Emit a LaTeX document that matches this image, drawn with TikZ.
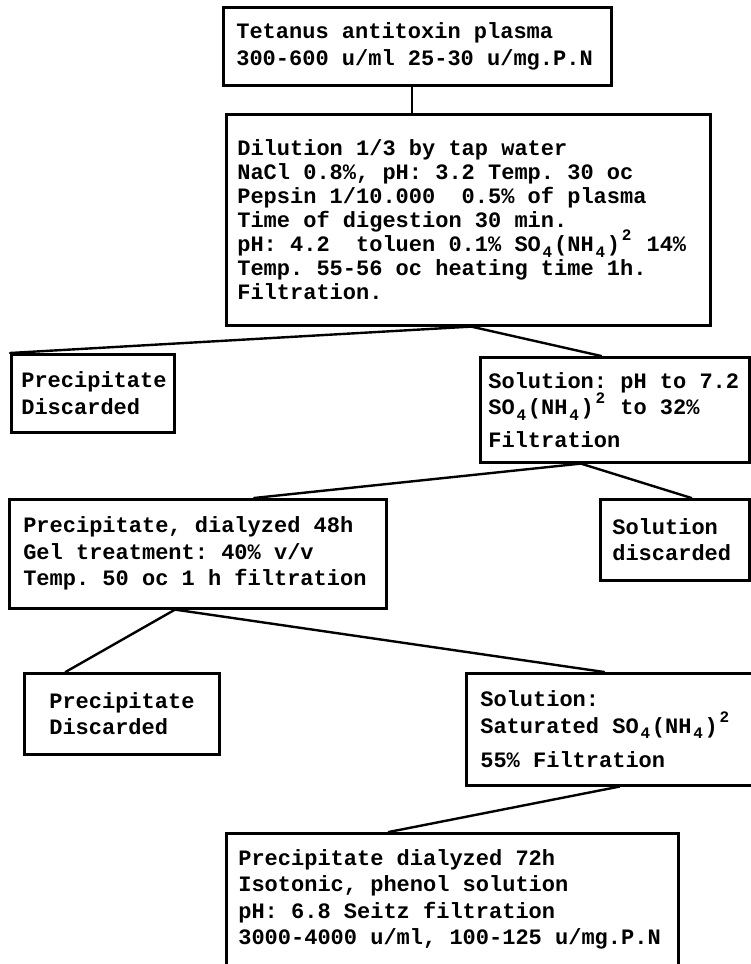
\documentclass[tikz,border=0pt]{standalone}
\usepackage{fontspec}
\setmonofont{Liberation Mono}
\usepackage{tikz}
\usetikzlibrary{calc, positioning}

\newcommand{\boxfont}[1]{\ttfamily\bfseries\fontsize{22}{#1}\selectfont\spaceskip=0.6em\relax\frenchspacing}
\newcommand{\lowr}[1]{\smash{\makebox[0.6em]{\raisebox{-0.25em}{\fontsize{16}{16}\selectfont #1}}}}
\newcommand{\highr}[1]{\smash{\makebox[0.6em]{\raisebox{0.5em}{\fontsize{16}{16}\selectfont #1}}}}

\tikzset{
  stagebox/.style={draw, line width=2.6pt, anchor=north west, align=flush left, inner xsep=12pt, inner ysep=0pt,
    font=\boxfont{26.5}},
  tightbox/.style={stagebox, font=\boxfont{23.9}},
  link/.style={line width=2.4pt, line cap=round}
}

\begin{document}
\begin{tikzpicture}[x=1pt, y=-1pt]
\useasboundingbox (0,0) rectangle (751,964);

\node[stagebox, inner xsep=13pt, text width=362pt, minimum height=78pt] (plasma) at (222,6)
  {Tetanus antitoxin plasma\\300-600 u/ml 25-30 u/mg.P.N};
\node[tightbox, inner xsep=11pt, text width=462pt, minimum height=211pt] (dilution) at (225,113)
  {Dilution 1/3 by tap water\\
   NaCl 0.8\%, pH: 3.2 Temp. 30 oc\\
   Pepsin 1/10.000~ 0.5\% of plasma\\
   Time of digestion 30 min.\\
   pH: 4.2~ toluen 0.1\% SO\lowr{4}(NH\lowr{4})\highr{2} 14\%\\
   Temp. 55-56 oc heating time 1h.\\
   Filtration.};

\node[stagebox, inner xsep=10pt, text width=143pt, minimum height=78pt] (precipone) at (10,353)
  {Precipitate\\Discarded};
\node[stagebox, inner xsep=8pt, text width=253pt, minimum height=105pt] (solone) at (479,356)
  {Solution: pH to 7.2\\SO\lowr{4}(NH\lowr{4})\highr{2} to 32\%\\[6pt]Filtration};

\node[stagebox, inner xsep=14pt, text width=349pt, minimum height=109pt] (dialyzed) at (8,498)
  {Precipitate, dialyzed 48h\\Gel treatment: 40\% v/v\\Temp. 50 oc 1 h filtration};
\node[stagebox, inner xsep=12pt, text width=125pt, minimum height=81pt] (soltwo) at (599,498)
  {Solution\\discarded};

\node[stagebox, inner xsep=25pt, text width=145pt, minimum height=81pt] (preciptwo) at (23,672)
  {Precipitate\\Discarded};
\node[stagebox, inner xsep=14pt, text width=272pt, minimum height=112pt] (saturated) at (465,672)
  {Solution:\\Saturated SO\lowr{4}(NH\lowr{4})\highr{2}\\[8pt]55\% Filtration};

\node[stagebox, inner xsep=12pt, text width=428pt, minimum height=132pt] (final) at (225,832)
  {Precipitate dialyzed 72h\\Isotonic, phenol solution\\pH: 6.8 Seitz filtration\\3000-4000 u/ml, 100-125 u/mg.P.N};

\coordinate (drop) at ($(plasma.south west)!0.487!(plasma.south east)$);
\draw[link] (drop) -- (drop |- dilution.north);
\draw[link] ($(dilution.south west)!0.506!(dilution.south east)$) coordinate (splitone) -- (precipone.north west);
\draw[link] (splitone) -- ($(solone.north west)!0.45!(solone.north east)$);
\draw[link] ($(solone.south west)!0.375!(solone.south east)$) coordinate (splittwo) -- ($(dialyzed.north west)!0.648!(dialyzed.north east)$);
\draw[link] (splittwo) -- ($(soltwo.north west)!0.61!(soltwo.north east)$);
\draw[link] ($(dialyzed.south west)!0.44!(dialyzed.south east)$) coordinate (splitthree) -- ($(preciptwo.north west)!0.215!(preciptwo.north east)$);
\draw[link] (splitthree) -- ($(saturated.north west)!0.46!(saturated.north east)$);
\draw[link] ($(saturated.south west)!0.51!(saturated.south east)$) -- ($(final.north west)!0.36!(final.north east)$);
\end{tikzpicture}
\end{document}
